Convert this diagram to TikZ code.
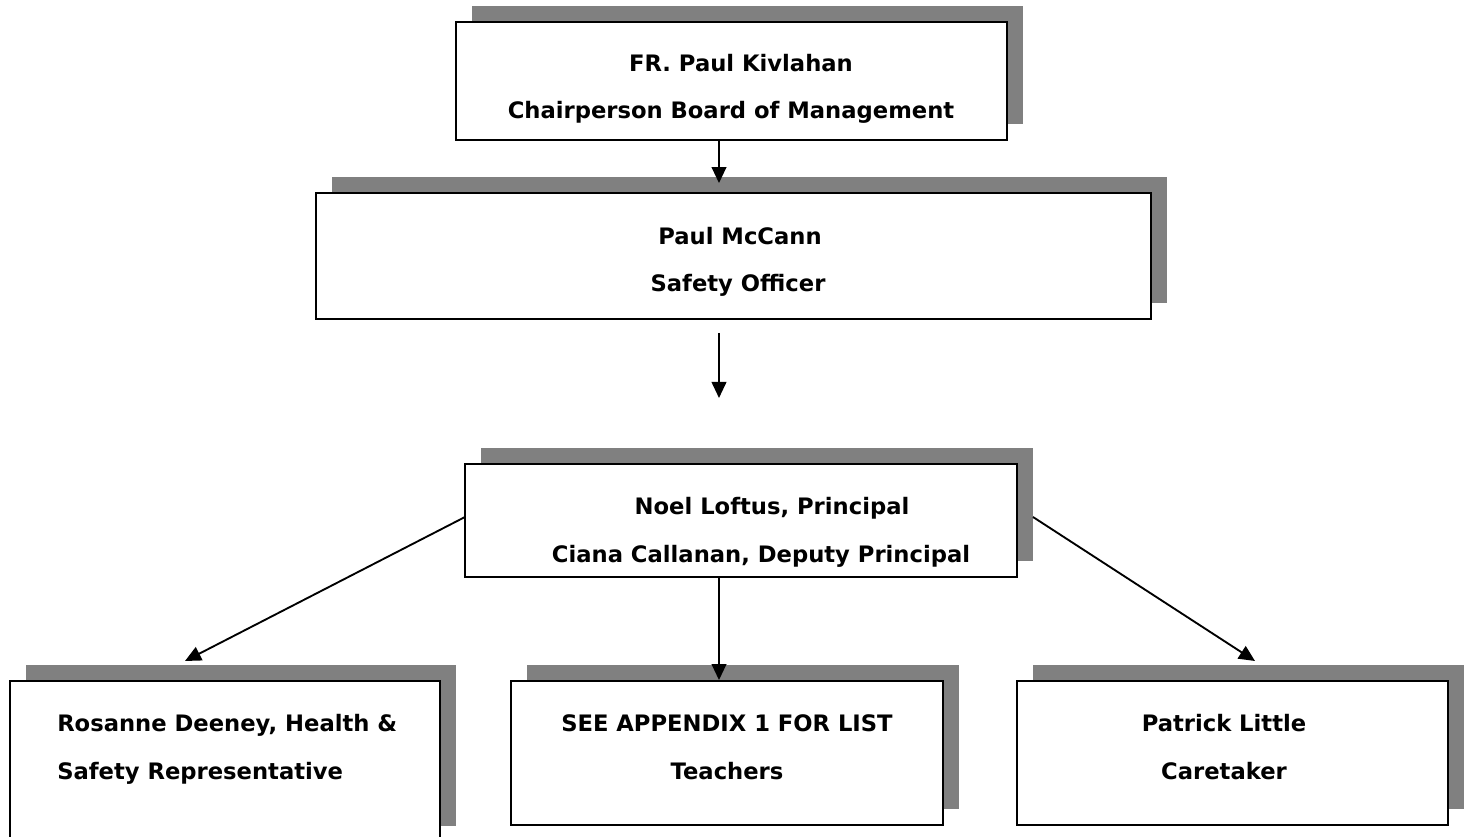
\documentclass[tikz,border=0pt]{standalone}
\usepackage{fontspec}
\setmainfont{DejaVu Sans}
\usetikzlibrary{shadows,arrows.meta}
\definecolor{shadowgray}{HTML}{808080}
\begin{document}
\begin{tikzpicture}[x=0.75pt,y=-0.75pt,
  box/.style={draw=black, fill=white, line width=1.4pt, inner sep=0pt,
    drop shadow={shadow xshift=12pt, shadow yshift=12pt, fill=shadowgray, opacity=1}},
  lbl/.style={font=\bfseries\fontsize{17}{20}\selectfont, anchor=base, inner sep=0pt},
  arr/.style={line width=1.4pt, -{Triangle[length=12pt,width=11pt]}}]
\useasboundingbox (0,0) rectangle (1468,837);
\clip (0,0) rectangle (1468,837);
% boxes
\node[box, minimum width=413.25pt, minimum height=88.5pt] (top) at (731.5,81) {};
\node[box, minimum width=626.25pt, minimum height=94.5pt] (safety) at (733.5,256) {};
\node[box, minimum width=414pt, minimum height=84.75pt] (princ) at (741,520.5) {};
\node[box, minimum width=322.5pt, minimum height=120.75pt] (hs) at (225,761.5) {};
\node[box, minimum width=324pt, minimum height=108pt] (teach) at (727,753) {};
\node[box, minimum width=323.25pt, minimum height=108pt] (care) at (1232.5,753) {};
% texts
\node[lbl] (t1a) at (741,72) {FR. Paul Kivlahan};
\node[lbl] (t1b) at (731,119) {Chairperson Board of Management};
\node[lbl] (t2a) at (740,245) {Paul McCann};
\node[lbl] (t2b) at (738,292) {Safety Officer};
\node[lbl] (t3a) at (772,515) {Noel Loftus, Principal};
\node[lbl] (t3b) at (761,563) {Ciana Callanan, Deputy Principal};
\node[lbl, anchor=base west] (t4a) at (57,731) {Rosanne Deeney, Health \&};
\node[lbl, anchor=base west] (t4b) at (57,779) {Safety Representative};
\node[lbl] (t5a) at (727,731) {SEE APPENDIX 1 FOR LIST};
\node[lbl] (t5b) at (727,779) {Teachers};
\node[lbl] (t6a) at (1224,731) {Patrick Little};
\node[lbl] (t6b) at (1224,779) {Caretaker};
% connector coordinates
\coordinate (axis) at (719,0);
\coordinate (s2a) at (719,333);
\coordinate (s2b) at (719,398);
\coordinate (lstart) at (465,517);
\coordinate (lend) at (185,661);
\coordinate (rstart) at (1033,517);
\coordinate (rend) at (1255,661);
% connectors
\draw[arr, shorten >=6.75pt] (top.south -| axis) -- (safety.north -| axis);
\draw[arr] (s2a) -- (s2b);
\draw[arr] (princ.south -| axis) -- (teach.north -| axis);
\draw[arr] (lstart) -- (lend);
\draw[arr] (rstart) -- (rend);
\end{tikzpicture}
\end{document}
